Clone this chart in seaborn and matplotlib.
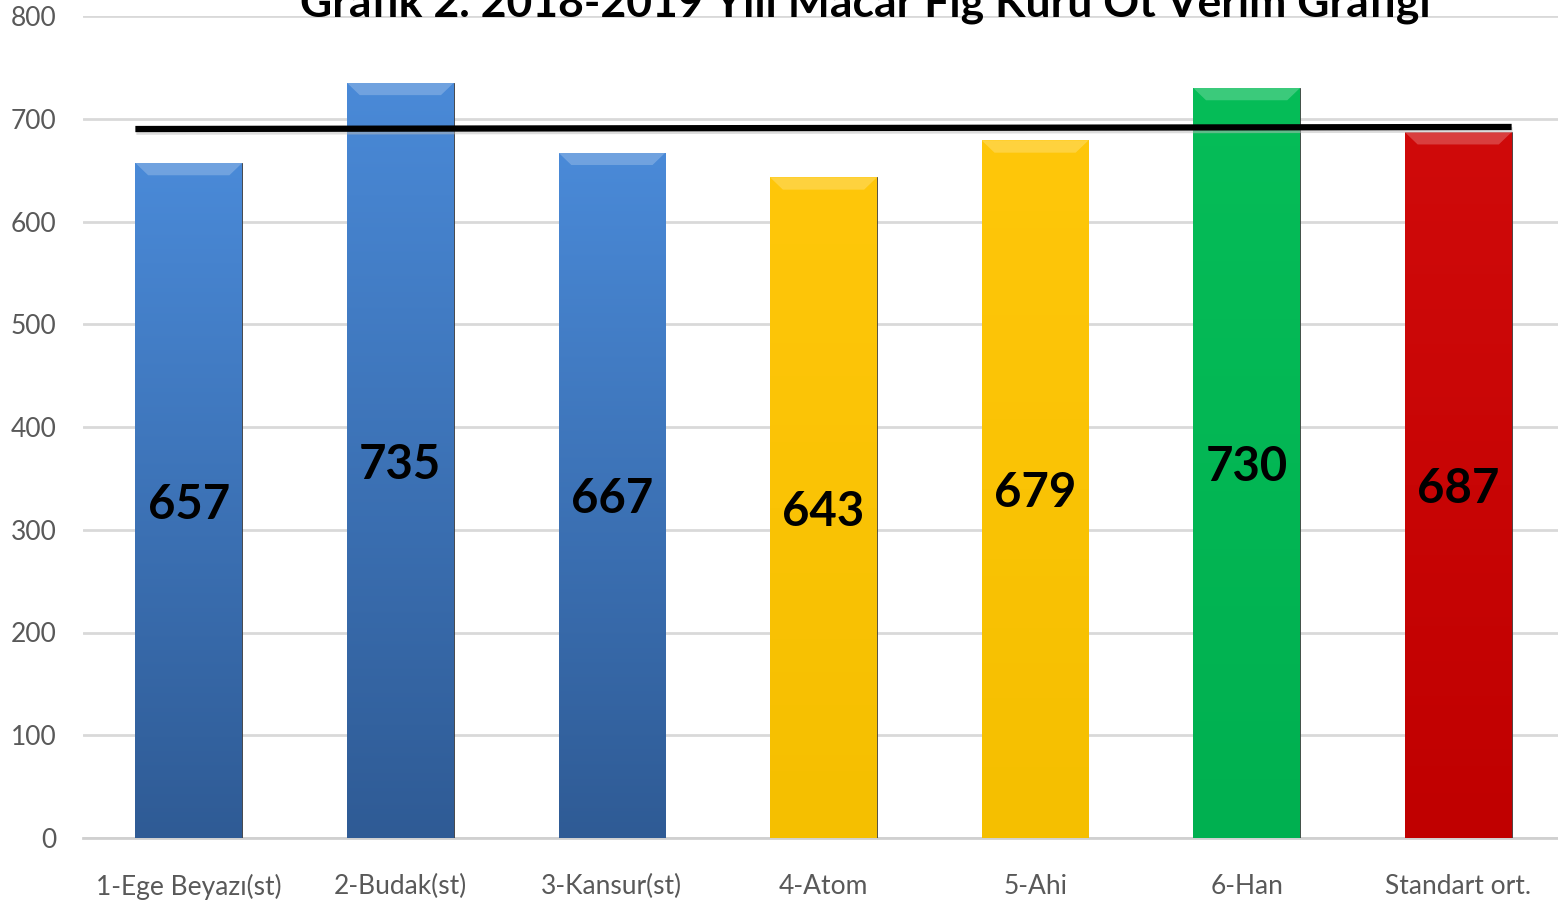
import numpy as np
import pandas as pd
import seaborn as sns
import matplotlib.pyplot as plt
from matplotlib.colors import LinearSegmentedColormap
from matplotlib.transforms import ScaledTranslation

## Data
cesitler = ["1-Ege Beyazı(st)", "2-Budak(st)", "3-Kansur(st)", "4-Atom",
            "5-Ahi", "6-Han", "Standart ort."]
verim = [657, 735, 667, 643, 679, 730, 687]
ortalama_cizgi = [690, 692]   # black reference line, left end / right end
ust_renk = ["#4a8ad8", "#4a8ad8", "#4a8ad8", "#ffc70a", "#ffc70a", "#06bd58", "#d00a0a"]
alt_renk = ["#2f5b95", "#2f5b95", "#2f5b95", "#f5bf00", "#f5bf00", "#00b050", "#c00000"]

df = pd.DataFrame({"cesit": cesitler, "verim": verim})

sns.set_style("white")
plt.rcParams["font.family"] = ["Lato", "DejaVu Sans"]

fig = plt.figure(figsize=(15.58, 9.08), dpi=100)
ax = fig.add_axes([83 / 1558, 70 / 908, (1564 - 83) / 1558, 822 / 908])

sns.barplot(data=df, x="cesit", y="verim", hue="cesit", palette=alt_renk,
            legend=False, width=0.505, ax=ax, zorder=3, saturation=1)

## gradient fill + thin edge on each bar
for p, c1, c2 in zip(ax.patches, ust_renk, alt_renk):
    x0, y0 = p.get_x(), p.get_y()
    w, h = p.get_width(), p.get_height()
    cmap = LinearSegmentedColormap.from_list("g", [c2, c1])
    grad = np.linspace(0, 1, 256).reshape(-1, 1)
    im = ax.imshow(grad, cmap=cmap, origin="lower", aspect="auto",
                   extent=[x0, x0 + w, y0, y0 + h], zorder=3.1)
    im.set_clip_path(p)
    p.set_edgecolor("#3a3a3a")
    p.set_linewidth(0.6)
    # lighter bevel at the top
    ax.fill([x0, x0 + w, x0 + w * 0.88, x0 + w * 0.12],
            [y0 + h, y0 + h, y0 + h - 12, y0 + h - 12],
            color="white", alpha=0.22, lw=0, zorder=3.2)

## black reference line across the bars
bl = ax.patches[0]
br = ax.patches[len(cesitler) - 1]
xs = [bl.get_x(), br.get_x() + br.get_width()]
ax.plot(xs, ortalama_cizgi, color="#bbbbbb", lw=4, alpha=0.5, zorder=3.9,
        solid_capstyle="butt",
        transform=ax.transData + ScaledTranslation(0.01, -0.03, fig.dpi_scale_trans))
ax.plot(xs, ortalama_cizgi, color="black", lw=4.5, zorder=4, solid_capstyle="butt")

## value labels in the middle of the bars
for i, v in enumerate(verim):
    ax.text(i, v / 2 - 4, str(v), ha="center", va="center", fontsize=34,
            fontweight="bold", color="black", zorder=5)

ax.set_ylim(0, 800)
ax.set_xlim(-0.5, 6.5)
ax.set_yticks(range(0, 801, 100))
ax.yaxis.grid(True, color="#d9d9d9", lw=2)
ax.set_axisbelow(True)
sns.despine(ax=ax, left=True, top=True, right=True)
ax.spines["bottom"].set_color("#d0d0d0")
ax.spines["bottom"].set_linewidth(2)
ax.tick_params(axis="y", length=0, pad=19, labelsize=19, labelcolor="#595959")
ax.tick_params(axis="x", length=0, pad=26, labelsize=19, labelcolor="#595959")
ax.set_xlabel("")
ax.set_ylabel("")

fig.text(865 / 1558, 1 - 17 / 908, "Grafik 2. 2018-2019 Yılı Macar Fiğ Kuru Ot Verim Grafiği",
         ha="center", va="baseline", fontsize=32, fontweight="bold", color="black")

fig.savefig("out.png", dpi=100)
